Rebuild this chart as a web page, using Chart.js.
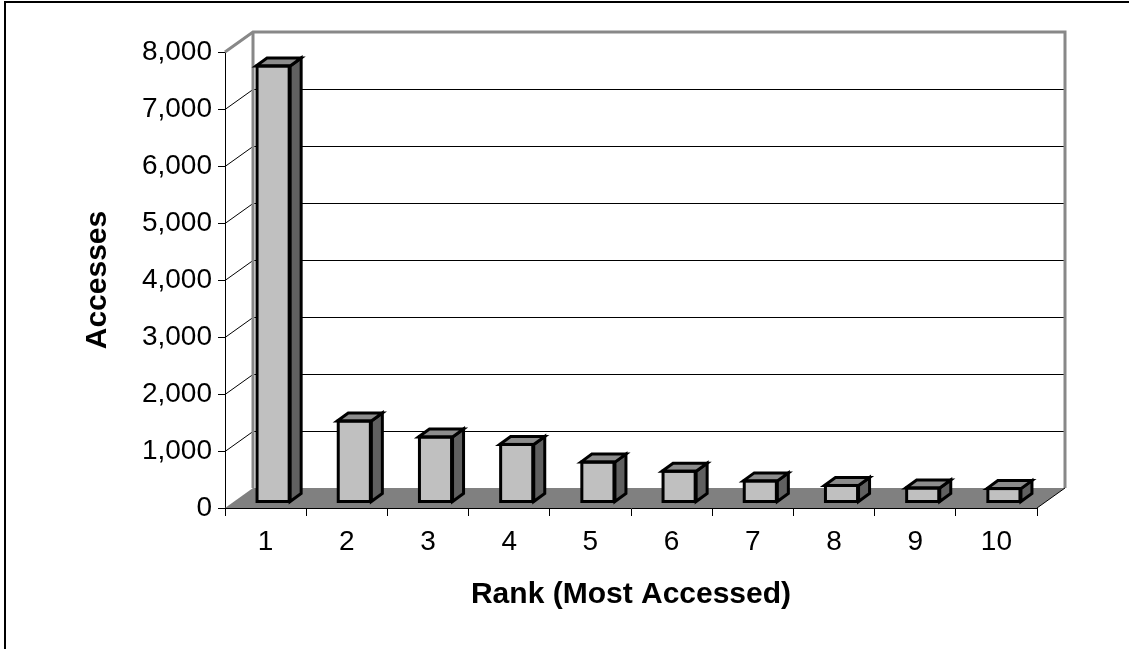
<!DOCTYPE html>
<html>
<head>
<meta charset="utf-8">
<script src="https://cdn.jsdelivr.net/npm/chart.js@4/dist/chart.umd.min.js"></script>
<style>
  html, body { margin: 0; padding: 0; background: #ffffff; }
  #wrap { position: relative; width: 1129px; height: 649px; }
  canvas { display: block; }
</style>
</head>
<body>
<div id="wrap"><canvas id="c" width="1129" height="649"></canvas></div>
<script>
// ---- data ----
const categories = ['1', '2', '3', '4', '5', '6', '7', '8', '9', '10'];
const accesses = [7650, 1420, 1140, 1010, 700, 540, 370, 290, 245, 235];
const yTickValues = [0, 1000, 2000, 3000, 4000, 5000, 6000, 7000, 8000];
const yTitle = 'Accesses';
const xTitle = 'Rank (Most Accessed)';

// ---- 3D look (styling) ----
const DEPTH = { dx: 28, dy: -20 };      // floor / wall depth
const BAR_FRONT = { dx: 7.5, dy: -6 };  // bar front face offset inside the depth
const BAR_DEPTH = { dx: 11, dy: -8 };   // bar thickness in depth

const fontFam = '"Liberation Sans", Arial, sans-serif';

const threeD = {
  id: 'threeD',
  beforeDraw(chart) {
    const ctx = chart.ctx;
    ctx.save();
    ctx.strokeStyle = '#000';
    ctx.lineWidth = 2;
    ctx.beginPath();
    ctx.moveTo(5, 649);
    ctx.lineTo(5, 2);
    ctx.lineTo(1129, 2);
    ctx.stroke();
    ctx.restore();
  },
  beforeDatasetsDraw(chart) {
    const ctx = chart.ctx;
    const xs = chart.scales.x, ys = chart.scales.y;
    const L = xs.left, R = xs.right;
    const T = ys.getPixelForValue(8000), B = ys.getPixelForValue(0);
    const dx = DEPTH.dx, dy = DEPTH.dy;
    ctx.save();
    ctx.fillStyle = '#ffffff';
    ctx.fillRect(L + dx, T + dy, R - L, B - T);
    ctx.strokeStyle = '#000';
    ctx.lineWidth = 1;
    yTickValues.forEach(v => {
      if (v === 0 || v === 8000) return;
      const y = Math.round(ys.getPixelForValue(v)) + 0.5;
      ctx.beginPath();
      ctx.moveTo(L, y);
      ctx.lineTo(L + dx, y + dy);
      ctx.lineTo(R + dx, y + dy);
      ctx.stroke();
    });
    ctx.fillStyle = '#808080';
    ctx.beginPath();
    ctx.moveTo(L, B);
    ctx.lineTo(R, B);
    ctx.lineTo(R + dx, B + dy);
    ctx.lineTo(L + dx, B + dy);
    ctx.closePath();
    ctx.fill();
    ctx.strokeStyle = '#888888';
    ctx.lineWidth = 3;
    ctx.lineJoin = 'miter';
    ctx.beginPath();
    ctx.moveTo(L, T);
    ctx.lineTo(L + dx, T + dy);
    ctx.lineTo(R + dx, T + dy);
    ctx.lineTo(R + dx, B + dy);
    ctx.stroke();
    ctx.beginPath();
    ctx.moveTo(L + dx, T + dy);
    ctx.lineTo(L + dx, B + dy);
    ctx.stroke();
    ctx.strokeStyle = '#000';
    ctx.lineWidth = 1;
    ctx.beginPath();
    ctx.moveTo(R, B);
    ctx.lineTo(R + dx, B + dy);
    ctx.stroke();
    ctx.restore();

    ctx.save();
    ctx.translate(BAR_FRONT.dx, BAR_FRONT.dy);
  },
  afterDatasetsDraw(chart) {
    const ctx = chart.ctx;
    const meta = chart.getDatasetMeta(0);
    const bdx = BAR_DEPTH.dx, bdy = BAR_DEPTH.dy;
    ctx.lineWidth = 3;
    ctx.lineJoin = 'miter';
    ctx.strokeStyle = '#000';
    meta.data.forEach(bar => {
      const p = bar.getProps(['x', 'y', 'base', 'width'], true);
      const l = p.x - p.width / 2, r = p.x + p.width / 2;
      const top = p.y, bot = p.base;
      ctx.fillStyle = '#606060';
      ctx.beginPath();
      ctx.moveTo(r, top);
      ctx.lineTo(r + bdx, top + bdy);
      ctx.lineTo(r + bdx, bot + bdy);
      ctx.lineTo(r, bot);
      ctx.closePath();
      ctx.fill();
      ctx.stroke();
      ctx.fillStyle = '#8c8c8c';
      ctx.beginPath();
      ctx.moveTo(l, top);
      ctx.lineTo(l + bdx, top + bdy);
      ctx.lineTo(r + bdx, top + bdy);
      ctx.lineTo(r, top);
      ctx.closePath();
      ctx.fill();
      ctx.stroke();
      ctx.strokeRect(l + 1, top, p.width - 2, bot - top);
    });
    ctx.restore();
  }
};

new Chart(document.getElementById('c'), {
  type: 'bar',
  data: {
    labels: categories,
    datasets: [{
      data: accesses,
      backgroundColor: '#c0c0c0',
      borderColor: '#000',
      borderWidth: 0,
      categoryPercentage: 1,
      barPercentage: 0.42
    }]
  },
  plugins: [threeD],
  options: {
    responsive: false,
    animation: false,
    events: [],
    layout: { padding: { left: 0, top: 52, right: 92, bottom: 0 } },
    plugins: { legend: { display: false }, tooltip: { enabled: false } },
    scales: {
      x: {
        afterFit(s) { s.height = 141; },
        grid: { offset: true, drawOnChartArea: false, drawTicks: true, tickLength: 8, color: '#000', lineWidth: 1 },
        border: { display: true, color: '#000', width: 1 },
        ticks: { color: '#000', font: { family: fontFam, size: 28 }, padding: 9, maxRotation: 0 },
        title: { display: true, text: xTitle, color: '#000', font: { family: fontFam, size: 30, weight: 'bold' }, padding: { top: 0, bottom: 36 } }
      },
      y: {
        min: 0, max: 8000,
        afterFit(s) { s.width = 225; },
        afterBuildTicks(s) { s.ticks = yTickValues.map(v => ({ value: v })); },
        grid: { drawOnChartArea: false, drawTicks: true, tickLength: 7, color: '#000', lineWidth: 1 },
        border: { display: true, color: '#000', width: 1 },
        ticks: {
          color: '#000', font: { family: fontFam, size: 28 }, padding: 6,
          callback: v => v.toLocaleString('en-US')
        },
        title: { display: true, text: yTitle, color: '#000', font: { family: fontFam, size: 30, weight: 'bold' }, padding: { top: 80, bottom: 0 } }
      }
    }
  }
});
</script>
</body>
</html>
